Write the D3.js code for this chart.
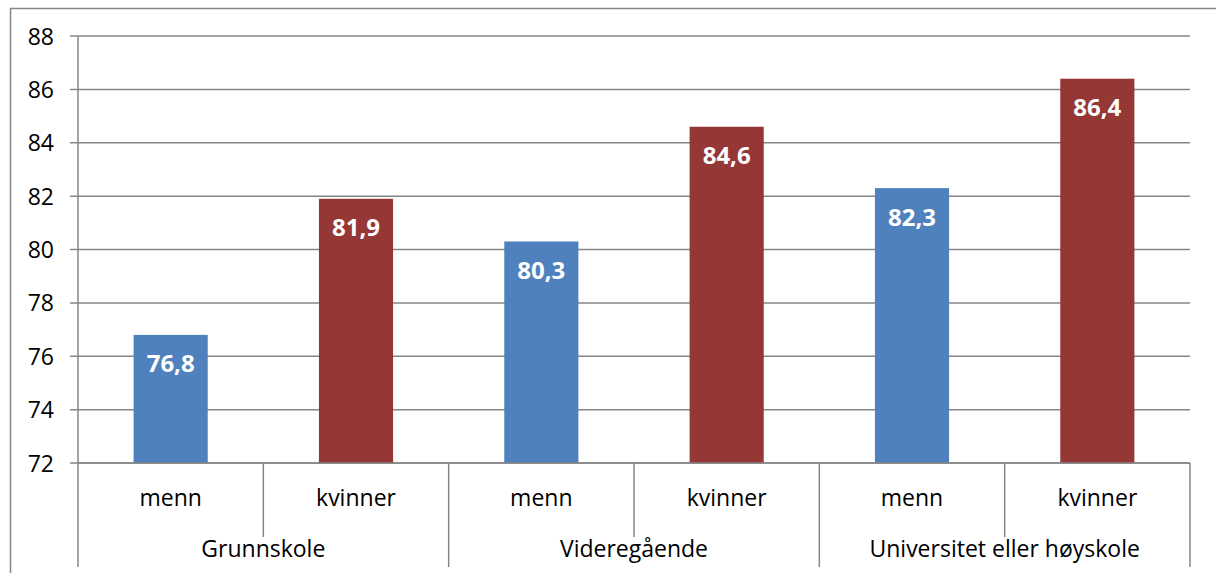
<!DOCTYPE html>
<html>
<head>
<meta charset="utf-8">
<script src="https://cdn.jsdelivr.net/npm/d3@7"></script>
<style>
  body { margin: 0; background: #fff; }
  text { font-family: "Open Sans", "Liberation Sans", sans-serif; }
</style>
</head>
<body>
<svg id="chart" width="1216" height="573"></svg>
<script>
const groups = ['Grunnskole', 'Videregående', 'Universitet eller høyskole'];
const sexes = ['menn', 'kvinner'];
const values = [76.8, 81.9, 80.3, 84.6, 82.3, 86.4];
const yTicks = [72, 74, 76, 78, 80, 82, 84, 86, 88];
const colors = { menn: '#4F81BD', kvinner: '#943735' };

const svg = d3.select('#chart');

// outer frame
svg.append('rect')
  .attr('x', 10.5).attr('y', 8.5)
  .attr('width', 1230).attr('height', 600)
  .attr('fill', 'none').attr('stroke', '#868686').attr('stroke-width', 1.5);

const plotLeft = 78, plotRight = 1190, plotTop = 36, plotBottom = 463;

const rows = [];
groups.forEach((g, gi) => sexes.forEach((s, si) => {
  rows.push({ group: g, sex: s, value: values[gi * 2 + si], key: g + '|' + s });
}));

const x = d3.scaleBand()
  .domain(rows.map(d => d.key))
  .range([plotLeft, plotRight])
  .paddingInner(0.6).paddingOuter(0.3);

const xFull = d3.scaleBand()
  .domain(rows.map(d => d.key))
  .range([plotLeft, plotRight]);

const y = d3.scaleLinear().domain([72, 88]).range([plotBottom, plotTop]);

// gridlines
svg.append('g')
  .selectAll('line')
  .data(yTicks)
  .enter()
  .append('line')
    .attr('x1', plotLeft - 8).attr('x2', plotRight)
    .attr('y1', d => y(d)).attr('y2', d => y(d))
    .attr('stroke', '#868686').attr('stroke-width', 1.5);

svg.append('g')
  .selectAll('text')
  .data(yTicks)
  .enter()
  .append('text')
    .attr('x', 54).attr('y', d => y(d) + 8.5)
    .attr('text-anchor', 'end')
    .attr('font-size', 23)
    .attr('fill', '#000')
    .text(d => d);

// bars
svg.append('g')
  .selectAll('rect')
  .data(rows)
  .enter()
  .append('rect')
    .attr('x', d => x(d.key))
    .attr('width', x.bandwidth())
    .attr('y', d => y(d.value))
    .attr('height', d => y(72) - y(d.value))
    .attr('fill', d => colors[d.sex]);

svg.append('g')
  .selectAll('text')
  .data(rows)
  .enter()
  .append('text')
    .attr('x', d => x(d.key) + x.bandwidth() / 2)
    .attr('y', d => y(d.value) + 37.5)
    .attr('text-anchor', 'middle')
    .attr('font-size', 24)
    .attr('font-weight', 'bold')
    .attr('fill', '#fff')
    .text(d => d.value.toFixed(1).replace('.', ','));

// axes lines
svg.append('line')
  .attr('x1', plotLeft).attr('x2', plotLeft)
  .attr('y1', plotTop).attr('y2', 567)
  .attr('stroke', '#868686').attr('stroke-width', 1.5);

svg.append('line')
  .attr('x1', plotLeft).attr('x2', plotRight)
  .attr('y1', plotBottom).attr('y2', plotBottom)
  .attr('stroke', '#868686').attr('stroke-width', 1.5);

// category dividers
const bw = xFull.bandwidth();
svg.append('g')
  .selectAll('line')
  .data(rows)
  .enter()
  .append('line')
    .attr('x1', d => xFull(d.key) + bw).attr('x2', d => xFull(d.key) + bw)
    .attr('y1', plotBottom)
    .attr('y2', d => d.sex === 'kvinner' ? 567 : 537)
    .attr('stroke', '#868686').attr('stroke-width', 1.5);

svg.append('g')
  .selectAll('text')
  .data(rows)
  .enter()
  .append('text')
    .attr('x', d => xFull(d.key) + bw / 2)
    .attr('y', 506)
    .attr('text-anchor', 'middle')
    .attr('font-size', 23)
    .text(d => d.sex);

svg.append('g')
  .selectAll('text')
  .data(groups)
  .enter()
  .append('text')
    .attr('x', (d, i) => plotLeft + bw * (2 * i + 1))
    .attr('y', 557)
    .attr('text-anchor', 'middle')
    .attr('font-size', 23)
    .text(d => d);
</script>
</body>
</html>
